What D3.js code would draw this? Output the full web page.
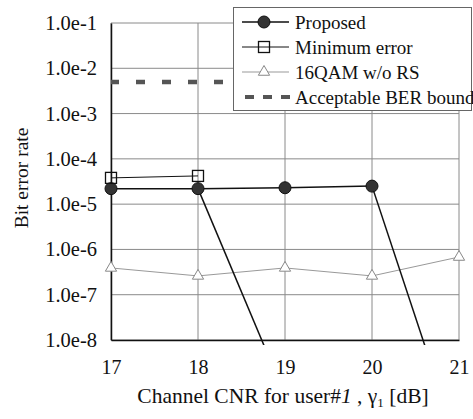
<!DOCTYPE html>
<html><head><meta charset="utf-8">
<script src="https://cdn.jsdelivr.net/npm/d3@7"></script>
<style>body{margin:0;background:#fff}svg{display:block}svg text{font-family:"Liberation Serif","DejaVu Serif","Noto Serif",serif !important;fill:#111}</style>
</head><body>
<script>
const xTicks = [17, 18, 19, 20, 21];
const yTicks = [1e-1, 1e-2, 1e-3, 1e-4, 1e-5, 1e-6, 1e-7, 1e-8];
const yTickLabels = ["1.0e-1","1.0e-2","1.0e-3","1.0e-4","1.0e-5","1.0e-6","1.0e-7","1.0e-8"];
const proposedX = [17, 18, 19, 20];
const proposedY = [2.2e-5, 2.2e-5, 2.3e-5, 2.5e-5];
const dropAX = [18, 19];
const dropAY = [2.2e-5, 6e-10];
const dropBX = [20, 21];
const dropBY = [2.5e-5, 4e-11];
const minErrX = [17, 18];
const minErrY = [3.8e-5, 4.2e-5];
const qamX = [17, 18, 19, 20, 21];
const qamY = [3.9e-7, 2.6e-7, 3.9e-7, 2.6e-7, 6.8e-7];
const boundX = [17, 21];
const boundY = [5e-3, 5e-3];
const legendLabels = ["Proposed", "Minimum error", "16QAM w/o RS", "Acceptable BER bound"];

const W = 473, H = 419;
const L = 111, R = 459, T = 23, B = 340;
const svg = d3.select("body").append("svg").attr("width", W).attr("height", H);
const x = d3.scaleLinear().domain([17, 21]).range([L, R]);
const y = d3.scaleLog().domain([1e-8, 1e-1]).range([B, T]);

// grid
svg.append("g").selectAll("line").data(yTicks).join("line")
  .attr("x1", L).attr("x2", R).attr("y1", d => y(d)).attr("y2", d => y(d))
  .attr("stroke", "#8a8a8a").attr("stroke-width", 1);
svg.append("g").selectAll("line").data(xTicks).join("line")
  .attr("x1", d => x(d)).attr("x2", d => x(d)).attr("y1", T).attr("y2", B)
  .attr("stroke", "#8a8a8a").attr("stroke-width", 1);

// axes
const yAxis = d3.axisLeft(y).tickValues(yTicks).tickFormat((d, i) => yTickLabels[i]).tickSize(0).tickPadding(14);
const gy = svg.append("g").attr("transform", `translate(${L},0)`).call(yAxis);
gy.attr("font-family", null);
gy.select(".domain").attr("stroke", "#111").attr("stroke-width", 1.5);
gy.selectAll("text").attr("font-size", 20.5).attr("fill", "#111");
const xAxis = d3.axisBottom(x).tickValues(xTicks).tickFormat(d3.format("d")).tickSize(0).tickPadding(20);
const gx = svg.append("g").attr("transform", `translate(0,${B})`).call(xAxis);
gx.attr("font-family", null);
gx.select(".domain").attr("stroke", "#111").attr("stroke-width", 1.5);
gx.selectAll("text").attr("font-size", 20).attr("fill", "#111");

// clip
svg.append("clipPath").attr("id", "clip").append("rect").attr("x", L - 10).attr("y", T - 10).attr("width", R - L + 20).attr("height", B - T + 15);
const plot = svg.append("g").attr("clip-path", "url(#clip)");
const line = (xs, ys) => d3.line().x((d, i) => x(xs[i])).y((d, i) => y(ys[i]))(xs);

// bound
plot.append("path").attr("d", line(boundX, boundY)).attr("fill", "none")
  .attr("stroke", "#555").attr("stroke-width", 4.5).attr("stroke-dasharray", "9 17").attr("stroke-dashoffset", 1);

// qam
plot.append("path").attr("d", line(qamX, qamY)).attr("fill", "none").attr("stroke", "#999").attr("stroke-width", 1);
// proposed
plot.append("path").attr("d", line(proposedX, proposedY)).attr("fill", "none").attr("stroke", "#111").attr("stroke-width", 1.5);
plot.append("path").attr("d", line(dropAX, dropAY)).attr("fill", "none").attr("stroke", "#111").attr("stroke-width", 1.5);
plot.append("path").attr("d", line(dropBX, dropBY)).attr("fill", "none").attr("stroke", "#111").attr("stroke-width", 1.5);
// min err
plot.append("path").attr("d", line(minErrX, minErrY)).attr("fill", "none").attr("stroke", "#111").attr("stroke-width", 1);

const tri = d3.symbol().type(d3.symbolTriangle).size(55);
plot.append("g").selectAll("path").data(qamX).join("path")
  .attr("transform", (d, i) => `translate(${x(d)},${y(qamY[i])})`).attr("d", tri())
  .attr("fill", "#fff").attr("stroke", "#888").attr("stroke-width", 1);
plot.append("g").selectAll("circle").data(proposedX).join("circle")
  .attr("cx", d => x(d)).attr("cy", (d, i) => y(proposedY[i])).attr("r", 6)
  .attr("fill", "#333").attr("stroke", "#111");
plot.append("g").selectAll("rect").data(minErrX).join("rect")
  .attr("x", d => x(d) - 5.5).attr("y", (d, i) => y(minErrY[i]) - 5.5).attr("width", 11).attr("height", 11)
  .attr("fill", "none").attr("stroke", "#111").attr("stroke-width", 1.3);

// legend
const lg = svg.append("g");
lg.append("rect").attr("x", 233.5).attr("y", 7.5).attr("width", 238).attr("height", 103)
  .attr("fill", "#fff").attr("stroke", "#666").attr("stroke-width", 1);
const rowY = [22, 47, 72, 97];
legendLabels.forEach((lab, i) => {
  const yy = rowY[i];
  if (i === 0) {
    lg.append("line").attr("x1", 242).attr("x2", 289).attr("y1", yy).attr("y2", yy).attr("stroke", "#111").attr("stroke-width", 1.5);
    lg.append("circle").attr("cx", 264).attr("cy", yy).attr("r", 6).attr("fill", "#333").attr("stroke", "#111");
  } else if (i === 1) {
    lg.append("line").attr("x1", 242).attr("x2", 289).attr("y1", yy).attr("y2", yy).attr("stroke", "#111").attr("stroke-width", 1);
    lg.append("rect").attr("x", 258.5).attr("y", yy - 5.5).attr("width", 11).attr("height", 11).attr("fill", "none").attr("stroke", "#111").attr("stroke-width", 1.3);
  } else if (i === 2) {
    lg.append("line").attr("x1", 242).attr("x2", 289).attr("y1", yy).attr("y2", yy).attr("stroke", "#999").attr("stroke-width", 1);
    lg.append("path").attr("transform", `translate(264,${yy})`).attr("d", tri()).attr("fill", "#fff").attr("stroke", "#888");
  } else {
    lg.append("line").attr("x1", 245).attr("x2", 291).attr("y1", yy).attr("y2", yy).attr("stroke", "#555").attr("stroke-width", 4).attr("stroke-dasharray", "9 9");
  }
  lg.append("text").attr("x", 295).attr("y", yy).attr("dy", "0.35em").attr("font-size", 19).text(lab);
});

// axis titles
svg.append("text").attr("transform", "translate(28,178) rotate(-90)").attr("text-anchor", "middle")
  .attr("font-size", 19.5).text("Bit error rate");
const xt = svg.append("text").attr("x", 283).attr("y", 403).attr("text-anchor", "middle").attr("font-size", 21.5);
xt.append("tspan").text("Channel CNR for user#");
xt.append("tspan").attr("font-style", "italic").text("1");
xt.append("tspan").text(" , γ");
xt.append("tspan").attr("font-size", 13).attr("dy", 4).text("1");
xt.append("tspan").attr("dy", -4).text(" [dB]");
</script>
</body></html>
